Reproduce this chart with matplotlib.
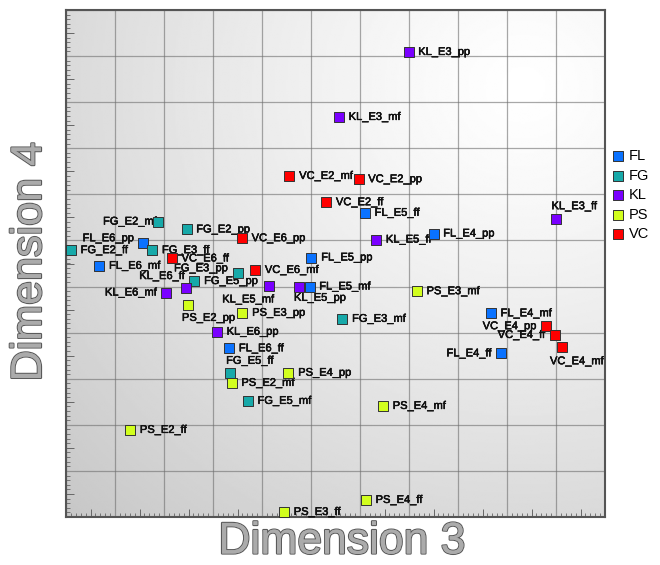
import numpy as np
import matplotlib
matplotlib.use("Agg")
import matplotlib.pyplot as plt
from matplotlib import patheffects as pe
from matplotlib.ticker import MultipleLocator

# ---------------- data ----------------
groups = ["FL", "FG", "KL", "PS", "VC"]

fl_names = ["FL_E6_pp", "FL_E6_mf", "FL_E5_ff", "FL_E4_pp", "FL_E5_pp",
            "FL_E5_mf", "FL_E6_ff", "FL_E4_mf", "FL_E4_ff"]
fl_x = [1.58, 0.68, 6.10, 7.50, 5.01, 4.97, 3.33, 8.67, 8.88]
fl_y = [5.94, 5.45, 6.60, 6.15, 5.63, 5.00, 3.66, 4.42, 3.55]

fg_names = ["FG_E2_mf", "FG_E2_pp", "FG_E2_ff", "FG_E3_ff", "FG_E3_pp",
            "FG_E5_pp", "FG_E3_mf", "FG_E5_ff", "FG_E5_mf"]
fg_x = [1.87, 2.46, 0.10, 1.76, 3.50, 2.62, 5.64, 3.35, 3.71]
fg_y = [6.41, 6.24, 5.79, 5.79, 5.30, 5.12, 4.30, 3.13, 2.52]

kl_names = ["KL_E3_pp", "KL_E3_mf", "KL_E5_ff", "KL_E3_ff", "KL_E6_ff",
            "KL_E6_mf", "KL_E5_mf", "KL_E5_pp", "KL_E6_pp"]
kl_x = [6.99, 5.57, 6.33, 10.01, 2.44, 2.04, 4.15, 4.76, 3.08]
kl_y = [10.09, 8.68, 6.02, 6.46, 4.96, 4.87, 5.01, 5.00, 4.02]

ps_names = ["PS_E2_pp", "PS_E3_pp", "PS_E3_mf", "PS_E4_pp", "PS_E2_mf",
            "PS_E4_mf", "PS_E2_ff", "PS_E4_ff", "PS_E3_ff"]
ps_x = [2.48, 3.60, 7.16, 4.54, 3.38, 6.47, 1.31, 6.12, 4.45]
ps_y = [4.61, 4.43, 4.90, 3.13, 2.91, 2.41, 1.89, 0.37, 0.11]

vc_names = ["VC_E2_mf", "VC_E2_pp", "VC_E2_ff", "VC_E6_pp", "VC_E6_ff",
            "VC_E6_mf", "VC_E4_pp", "VC_E4_ff", "VC_E4_mf"]
vc_x = [4.56, 5.97, 5.31, 3.59, 2.16, 3.86, 9.79, 9.97, 10.12]
vc_y = [7.40, 7.33, 6.83, 6.05, 5.61, 5.36, 4.14, 3.95, 3.69]

# ---------------- styles ----------------
colors = {"FL": "#0a72ff", "FG": "#17a9a9", "KL": "#7a00ff",
          "PS": "#d2ff1e", "VC": "#ff0000"}
series = {"FL": (fl_names, fl_x, fl_y), "FG": (fg_names, fg_x, fg_y),
          "KL": (kl_names, kl_x, kl_y), "PS": (ps_names, ps_x, ps_y),
          "VC": (vc_names, vc_x, vc_y)}

# label placement (offset points dx, dy, ha); default right of marker
default_place = (7.0, 0.0, "left")
label_place = {
    "FL_E6_pp": (-6.7, 3.6, "right"),
    "FL_E4_ff": (-7.0, 0.0, "right"),
    "FG_E2_mf": (-0.5, 0.0, "right"),
    "FG_E3_pp": (-6.8, 3.2, "right"),
    "FG_E5_ff": (-2.9, 8.6, "left"),
    "KL_E3_ff": (-3.6, 9.4, "left"),
    "KL_E6_ff": (-0.5, 8.9, "right"),
    "KL_E6_mf": (-6.5, 0.0, "right"),
    "KL_E5_mf": (3.4, -9.6, "right"),
    "KL_E5_pp": (-3.8, -8.1, "left"),
    "PS_E2_pp": (-4.0, -9.6, "left"),
    "VC_E4_pp": (-6.5, 0.0, "right"),
    "VC_E4_ff": (-6.7, 0.0, "right"),
    "VC_E4_mf": (10.8, -10.3, "center"),
}

plt.rcParams["font.family"] = ["Liberation Sans", "DejaVu Sans"]

fig = plt.figure(figsize=(6.6, 5.65), dpi=100)
ax = fig.add_axes([66 / 660, 48 / 565, 539 / 660, 507 / 565])
ax.set_xlim(0, 11)
ax.set_ylim(0, 11)

# background gradient
gx, gy = np.meshgrid(np.linspace(0, 1, 300), np.linspace(0, 1, 300))
d = np.sqrt((gx - 0.85) ** 2 + (gy - 0.85) ** 2) / 1.2
Z = 1 - 0.22 * np.clip(d, 0, 1) ** 1.2
ax.imshow(Z, extent=(0, 11, 0, 11), origin="lower", cmap="gray", vmin=0,
          vmax=1, aspect="auto", zorder=0, interpolation="bilinear")

ax.xaxis.set_major_locator(MultipleLocator(1))
ax.yaxis.set_major_locator(MultipleLocator(1))
ax.xaxis.set_minor_locator(MultipleLocator(0.1))
ax.yaxis.set_minor_locator(MultipleLocator(0.1))
ax.set_axisbelow(True)
ax.grid(which="major", color="#6e6e6e", lw=0.9, alpha=0.6)
ax.tick_params(which="major", length=0, labelbottom=False, labelleft=False)
ax.tick_params(which="minor", direction="in", length=3, width=0.6,
               color="#666666")
for s in ax.spines.values():
    s.set_color("#555555")
    s.set_linewidth(1.5)

secx = ax.secondary_xaxis("bottom")
secx.set_xticks(np.arange(0.5, 11, 1))
secx.tick_params(direction="in", length=6, width=0.7, color="#666666",
                 labelbottom=False)
secx.spines["bottom"].set_visible(False)
secy = ax.secondary_yaxis("left")
secy.set_yticks(np.arange(0.5, 11, 1))
secy.tick_params(direction="in", length=6, width=0.7, color="#666666",
                 labelleft=False)
secy.spines["left"].set_visible(False)

txt_fx = [pe.withStroke(linewidth=0.35, foreground="#111111"), pe.Normal()]
for g in groups:
    names, xs, ys = series[g]
    ax.scatter(xs, ys, s=55, marker="s", c=colors[g], edgecolors="#333333",
               linewidths=0.7, zorder=4, label=g)
    for n, x, y in zip(names, xs, ys):
        dx, dy, ha = label_place.get(n, default_place)
        ax.annotate(n, (x, y), xytext=(dx, dy), textcoords="offset points",
                    ha=ha, va="center", fontsize=8, color="#111111",
                    zorder=3, annotation_clip=False, path_effects=txt_fx)

ax.legend(loc="upper left", bbox_to_anchor=(611 / 660, 1 - 149 / 565),
          bbox_transform=fig.transFigure, frameon=False, fontsize=10.5,
          handletextpad=0.25, labelspacing=0.38, borderaxespad=0,
          borderpad=0, handlelength=1.0, scatterpoints=1)

lab_fx = [pe.withStroke(linewidth=1.6, foreground="#5a5a5a"), pe.Normal()]
fig.text(342 / 660, 1 - 542 / 565, "Dimension 3", ha="center", va="center",
         fontsize=32, color="#ababab", path_effects=lab_fx)
fig.text(30 / 660, 1 - 262 / 565, "Dimension 4", ha="center", va="center",
         rotation=90, fontsize=31, color="#ababab", path_effects=lab_fx)

fig.savefig("out.png", dpi=100, facecolor="white")
